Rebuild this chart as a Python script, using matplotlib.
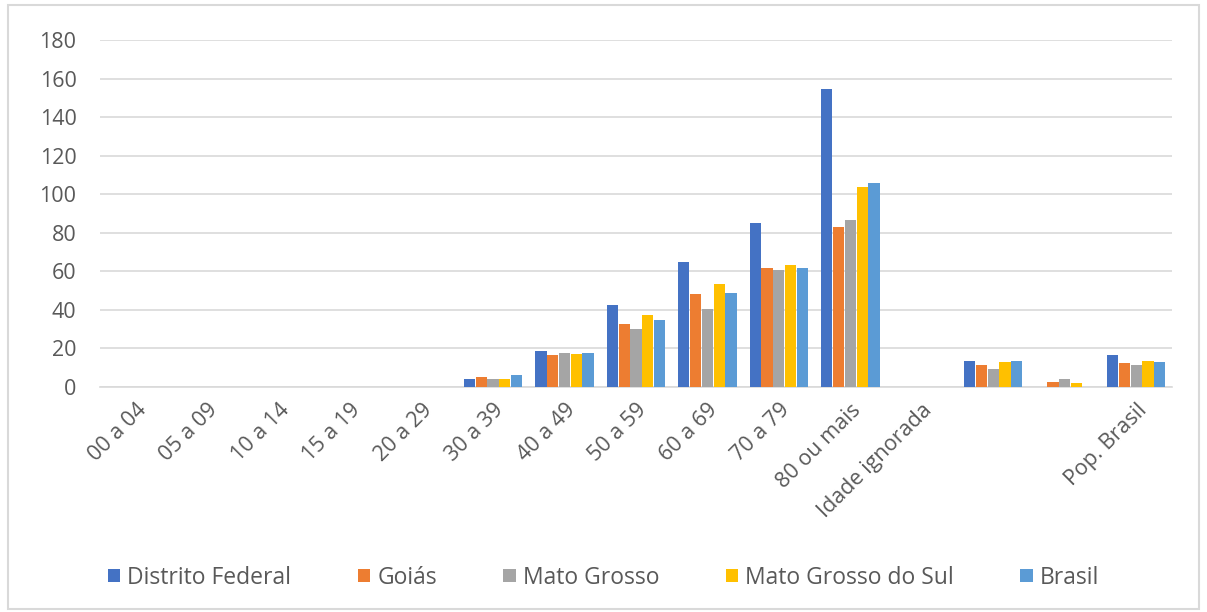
import numpy as np
import matplotlib
matplotlib.use('Agg')
import matplotlib.pyplot as plt
from matplotlib.patches import Rectangle

categories = ['00 a 04', '05 a 09', '10 a 14', '15 a 19', '20 a 29', '30 a 39',
              '40 a 49', '50 a 59', '60 a 69', '70 a 79', '80 ou mais',
              'Idade ignorada', '', '', 'Pop. Brasil']

series_names = ['Distrito Federal', 'Goiás', 'Mato Grosso', 'Mato Grosso do Sul', 'Brasil']

distrito_federal = [0, 0, 0, 0, 0, 4.0, 18.5, 42.5, 64.8, 85.2, 154.4, 0, 13.6, 0, 16.4]
goias            = [0, 0, 0, 0, 0, 5.3, 16.4, 32.7, 48.2, 62.0, 83.1, 0, 11.6, 2.6, 12.3]
mato_grosso      = [0, 0, 0, 0, 0, 4.3, 17.8, 30.0, 40.5, 60.7, 86.6, 0, 9.5, 4.0, 11.6]
mato_grosso_sul  = [0, 0, 0, 0, 0, 4.3, 17.1, 37.3, 53.4, 63.4, 103.6, 0, 13.0, 1.9, 13.6]
brasil           = [0, 0, 0, 0, 0, 6.0, 17.8, 34.7, 48.8, 62.0, 105.6, 0, 13.6, 0, 13.0]

colors = ['#4472C4', '#ED7D31', '#A5A5A5', '#FFC000', '#5B9BD5']
text_color = '#595959'

plt.rcParams['font.family'] = ['Open Sans', 'DejaVu Sans']

fig = plt.figure(figsize=(12.07, 6.12), dpi=100)
ax = fig.add_axes([0.0829, 0.3676, 0.888, 0.567])

all_series = [distrito_federal, goias, mato_grosso, mato_grosso_sul, brasil]
x = np.arange(len(categories))
width = 0.165
for i, (vals, name, col) in enumerate(zip(all_series, series_names, colors)):
    offset = (i - 2) * width
    ax.bar(x + offset, vals, width * 0.95, color=col, label=name, zorder=3)

ax.set_xlim(-0.5, len(categories) - 0.5)
ax.set_ylim(0, 180)
ax.set_yticks(range(0, 181, 20))
ax.yaxis.grid(True, color='#D9D9D9', linewidth=1.2, zorder=0)
ax.set_axisbelow(True)

for s in ['top', 'right', 'left']:
    ax.spines[s].set_visible(False)
ax.spines['bottom'].set_color('#D9D9D9')
ax.spines['bottom'].set_linewidth(1.2)

ax.set_xticks(x)
ax.set_xticklabels(categories, rotation=45, ha='right', rotation_mode='anchor',
                   fontsize=15.5, color=text_color)
ax.tick_params(axis='x', length=0, pad=9)
ax.tick_params(axis='y', length=0, pad=17, labelsize=15.5, labelcolor=text_color)

fig.legend(loc='lower center', bbox_to_anchor=(0.5, 0.003), ncol=5, frameon=False,
           fontsize=16.5, handlelength=0.55, handleheight=0.55, handletextpad=0.3,
           columnspacing=2.9, labelcolor=text_color)

fig.patches.append(Rectangle((0.007, 0.005), 0.986, 0.987, transform=fig.transFigure,
                             fill=False, edgecolor='#D9D9D9', linewidth=1.5))

plt.savefig('out.png', dpi=100)
plt.close()
